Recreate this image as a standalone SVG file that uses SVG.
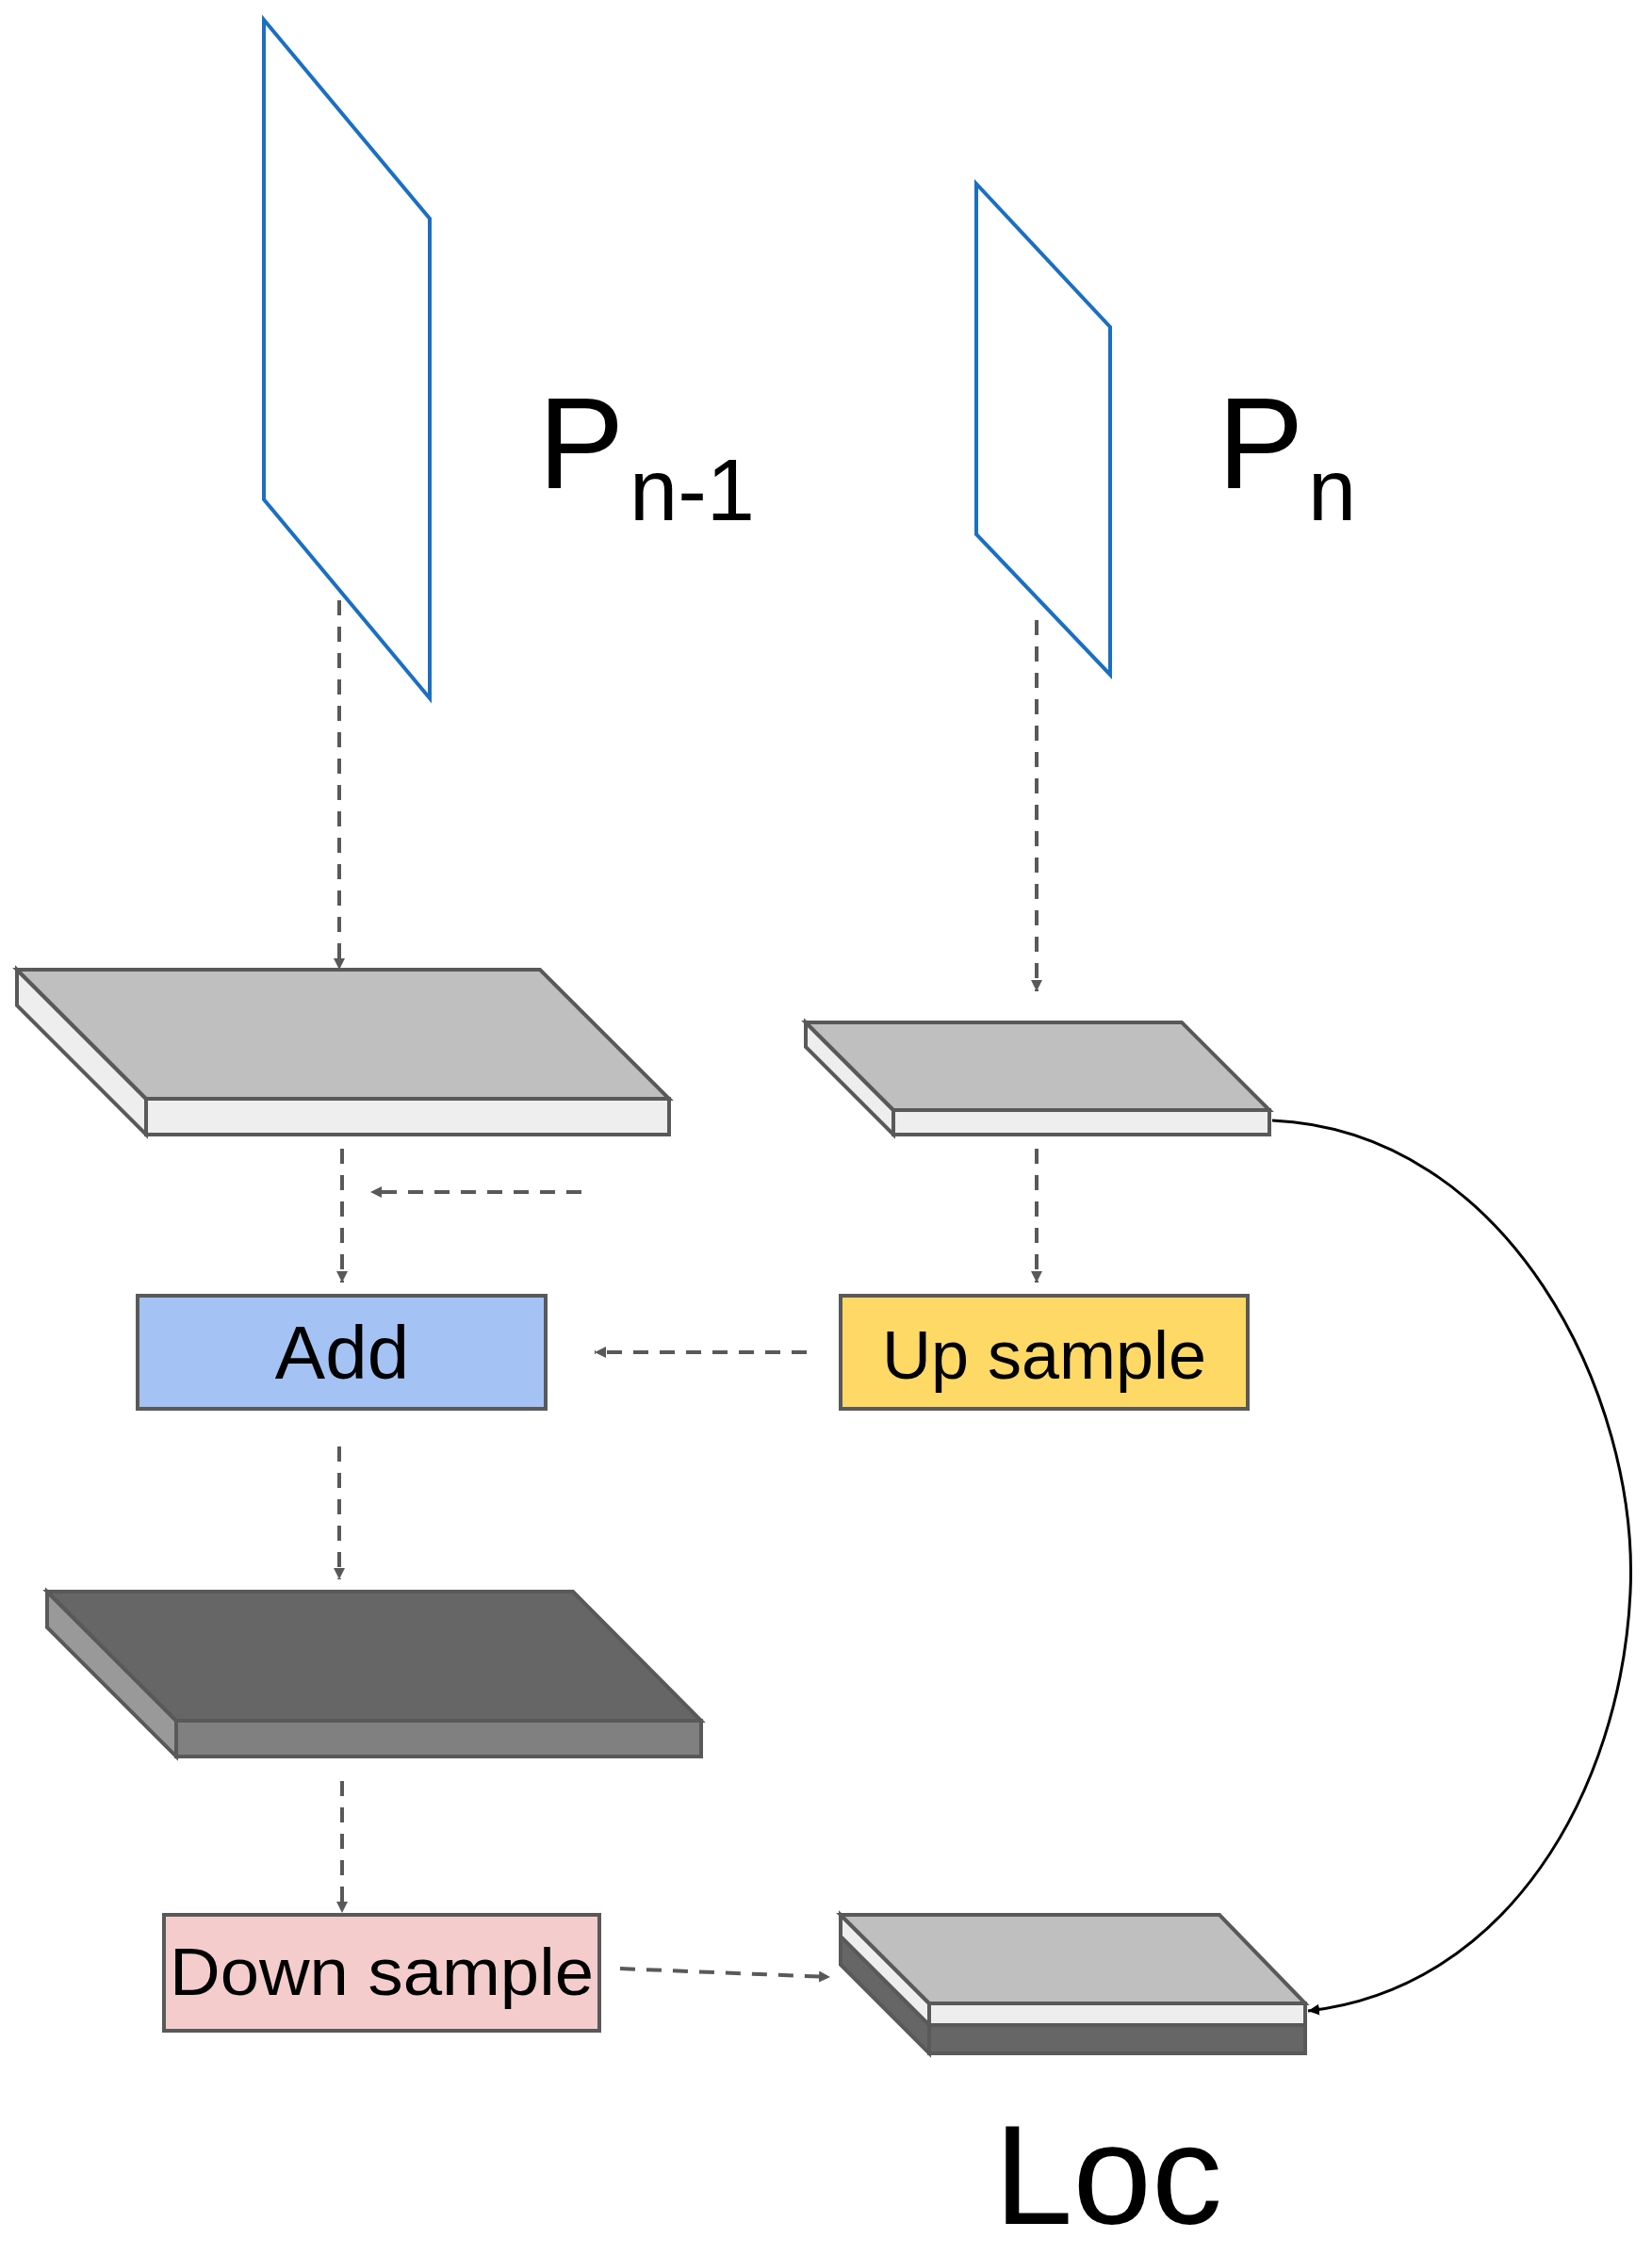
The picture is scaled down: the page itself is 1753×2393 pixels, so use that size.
<svg xmlns="http://www.w3.org/2000/svg" width="1753" height="2393" viewBox="0 0 1753 2393">
<defs>
<style>
.plane{fill:none;stroke:#1a6fc4;stroke-width:4}
.s{stroke:#595959;stroke-width:4;stroke-linejoin:miter}
.d{fill:none;stroke:#595959;stroke-width:4;stroke-dasharray:16 12}
.t{font-family:"Liberation Sans",Arial,sans-serif;fill:#000}
</style>
<marker id="ah" viewBox="0 0 10 10" refX="10" refY="5" markerWidth="12" markerHeight="12" markerUnits="userSpaceOnUse" orient="auto"><path d="M0,0L10,5L0,10z" fill="#595959"/></marker>
<marker id="ab" viewBox="0 0 10 10" refX="10" refY="5" markerWidth="12" markerHeight="12" markerUnits="userSpaceOnUse" orient="auto"><path d="M0,0L10,5L0,10z" fill="#000"/></marker>
</defs>
<g id="connectors">
<path class="d" d="M360,637V1029" marker-end="url(#ah)" style="--m:0"/>
<path class="d" d="M1100,658V1052" marker-end="url(#ah)"/>
<path class="d" d="M363,1219V1361" marker-end="url(#ah)"/>
<path class="d" d="M617,1265H393" marker-end="url(#ah)"/>
<path class="d" d="M1100,1219V1361" marker-end="url(#ah)"/>
<path class="d" d="M856,1435H631" marker-end="url(#ah)"/>
<path class="d" d="M360,1535V1676" marker-end="url(#ah)"/>
<path class="d" d="M363,1890V2030" marker-end="url(#ah)"/>
<path class="d" d="M658,2089L881,2098" marker-end="url(#ah)"/>
<path d="M1350,1189C1600,1200 1740,1480 1730,1690C1720,1900 1600,2110 1388,2134" fill="none" stroke="#000" stroke-width="3" marker-end="url(#ab)"/>
</g>
<g id="pn1"><polygon class="plane" points="280,21 456,232 456,741 280,530"/>
<text class="t" x="571" y="518" font-size="137">P</text><text class="t" x="668" y="552" font-size="92">n-1</text></g>
<g id="pn"><polygon class="plane" points="1036,195 1178,347 1178,716 1036,567"/>
<text class="t" x="1292" y="518" font-size="137">P</text><text class="t" x="1388" y="552" font-size="92">n</text></g>
<g id="slab1">
<polygon class="s" fill="#eeeeee" points="18,1029 155,1166 155,1204 18,1067"/>
<rect class="s" fill="#eeeeee" x="155" y="1166" width="555" height="38"/>
<polygon class="s" fill="#bfbfbf" points="18,1029 573,1029 710,1166 155,1166"/>
</g>
<g id="slab2">
<polygon class="s" fill="#eeeeee" points="855,1085 948,1178 948,1204 855,1111"/>
<rect class="s" fill="#eeeeee" x="948" y="1178" width="399" height="26"/>
<polygon class="s" fill="#bfbfbf" points="855,1085 1254,1085 1347,1178 948,1178"/>
</g>
<g id="add"><rect class="s" fill="#a4c2f4" x="146" y="1375" width="433" height="120"/>
<text class="t" x="363" y="1463" font-size="80" text-anchor="middle">Add</text></g>
<g id="up"><rect class="s" fill="#ffd966" x="892" y="1375" width="432" height="120"/>
<text class="t" x="1108" y="1463" font-size="72" text-anchor="middle">Up sample</text></g>
<g id="dark">
<polygon class="s" fill="#999999" points="50,1689 187,1826 187,1864 50,1727"/>
<rect class="s" fill="#808080" x="187" y="1826" width="557" height="38"/>
<polygon class="s" fill="#666666" points="50,1689 608,1689 744,1826 187,1826"/>
</g>
<g id="down"><rect class="s" fill="#f4cccc" x="174" y="2032" width="462" height="123"/>
<text class="t" x="405" y="2117" font-size="70" text-anchor="middle" textLength="450" lengthAdjust="spacingAndGlyphs">Down sample</text></g>
<g id="loc">
<polygon class="s" fill="#666666" points="892,2055 986,2149 986,2179 892,2085"/>
<rect class="s" fill="#666666" x="986" y="2149" width="399" height="30"/>
<polygon class="s" fill="#eeeeee" points="892,2032 986,2126 986,2149 892,2055"/>
<rect class="s" fill="#eeeeee" x="986" y="2126" width="399" height="23"/>
<polygon class="s" fill="#bfbfbf" points="892,2032 1294,2032 1385,2126 986,2126"/>
<text class="t" x="1176" y="2360" font-size="150" text-anchor="middle">Loc</text>
</g>
</svg>
